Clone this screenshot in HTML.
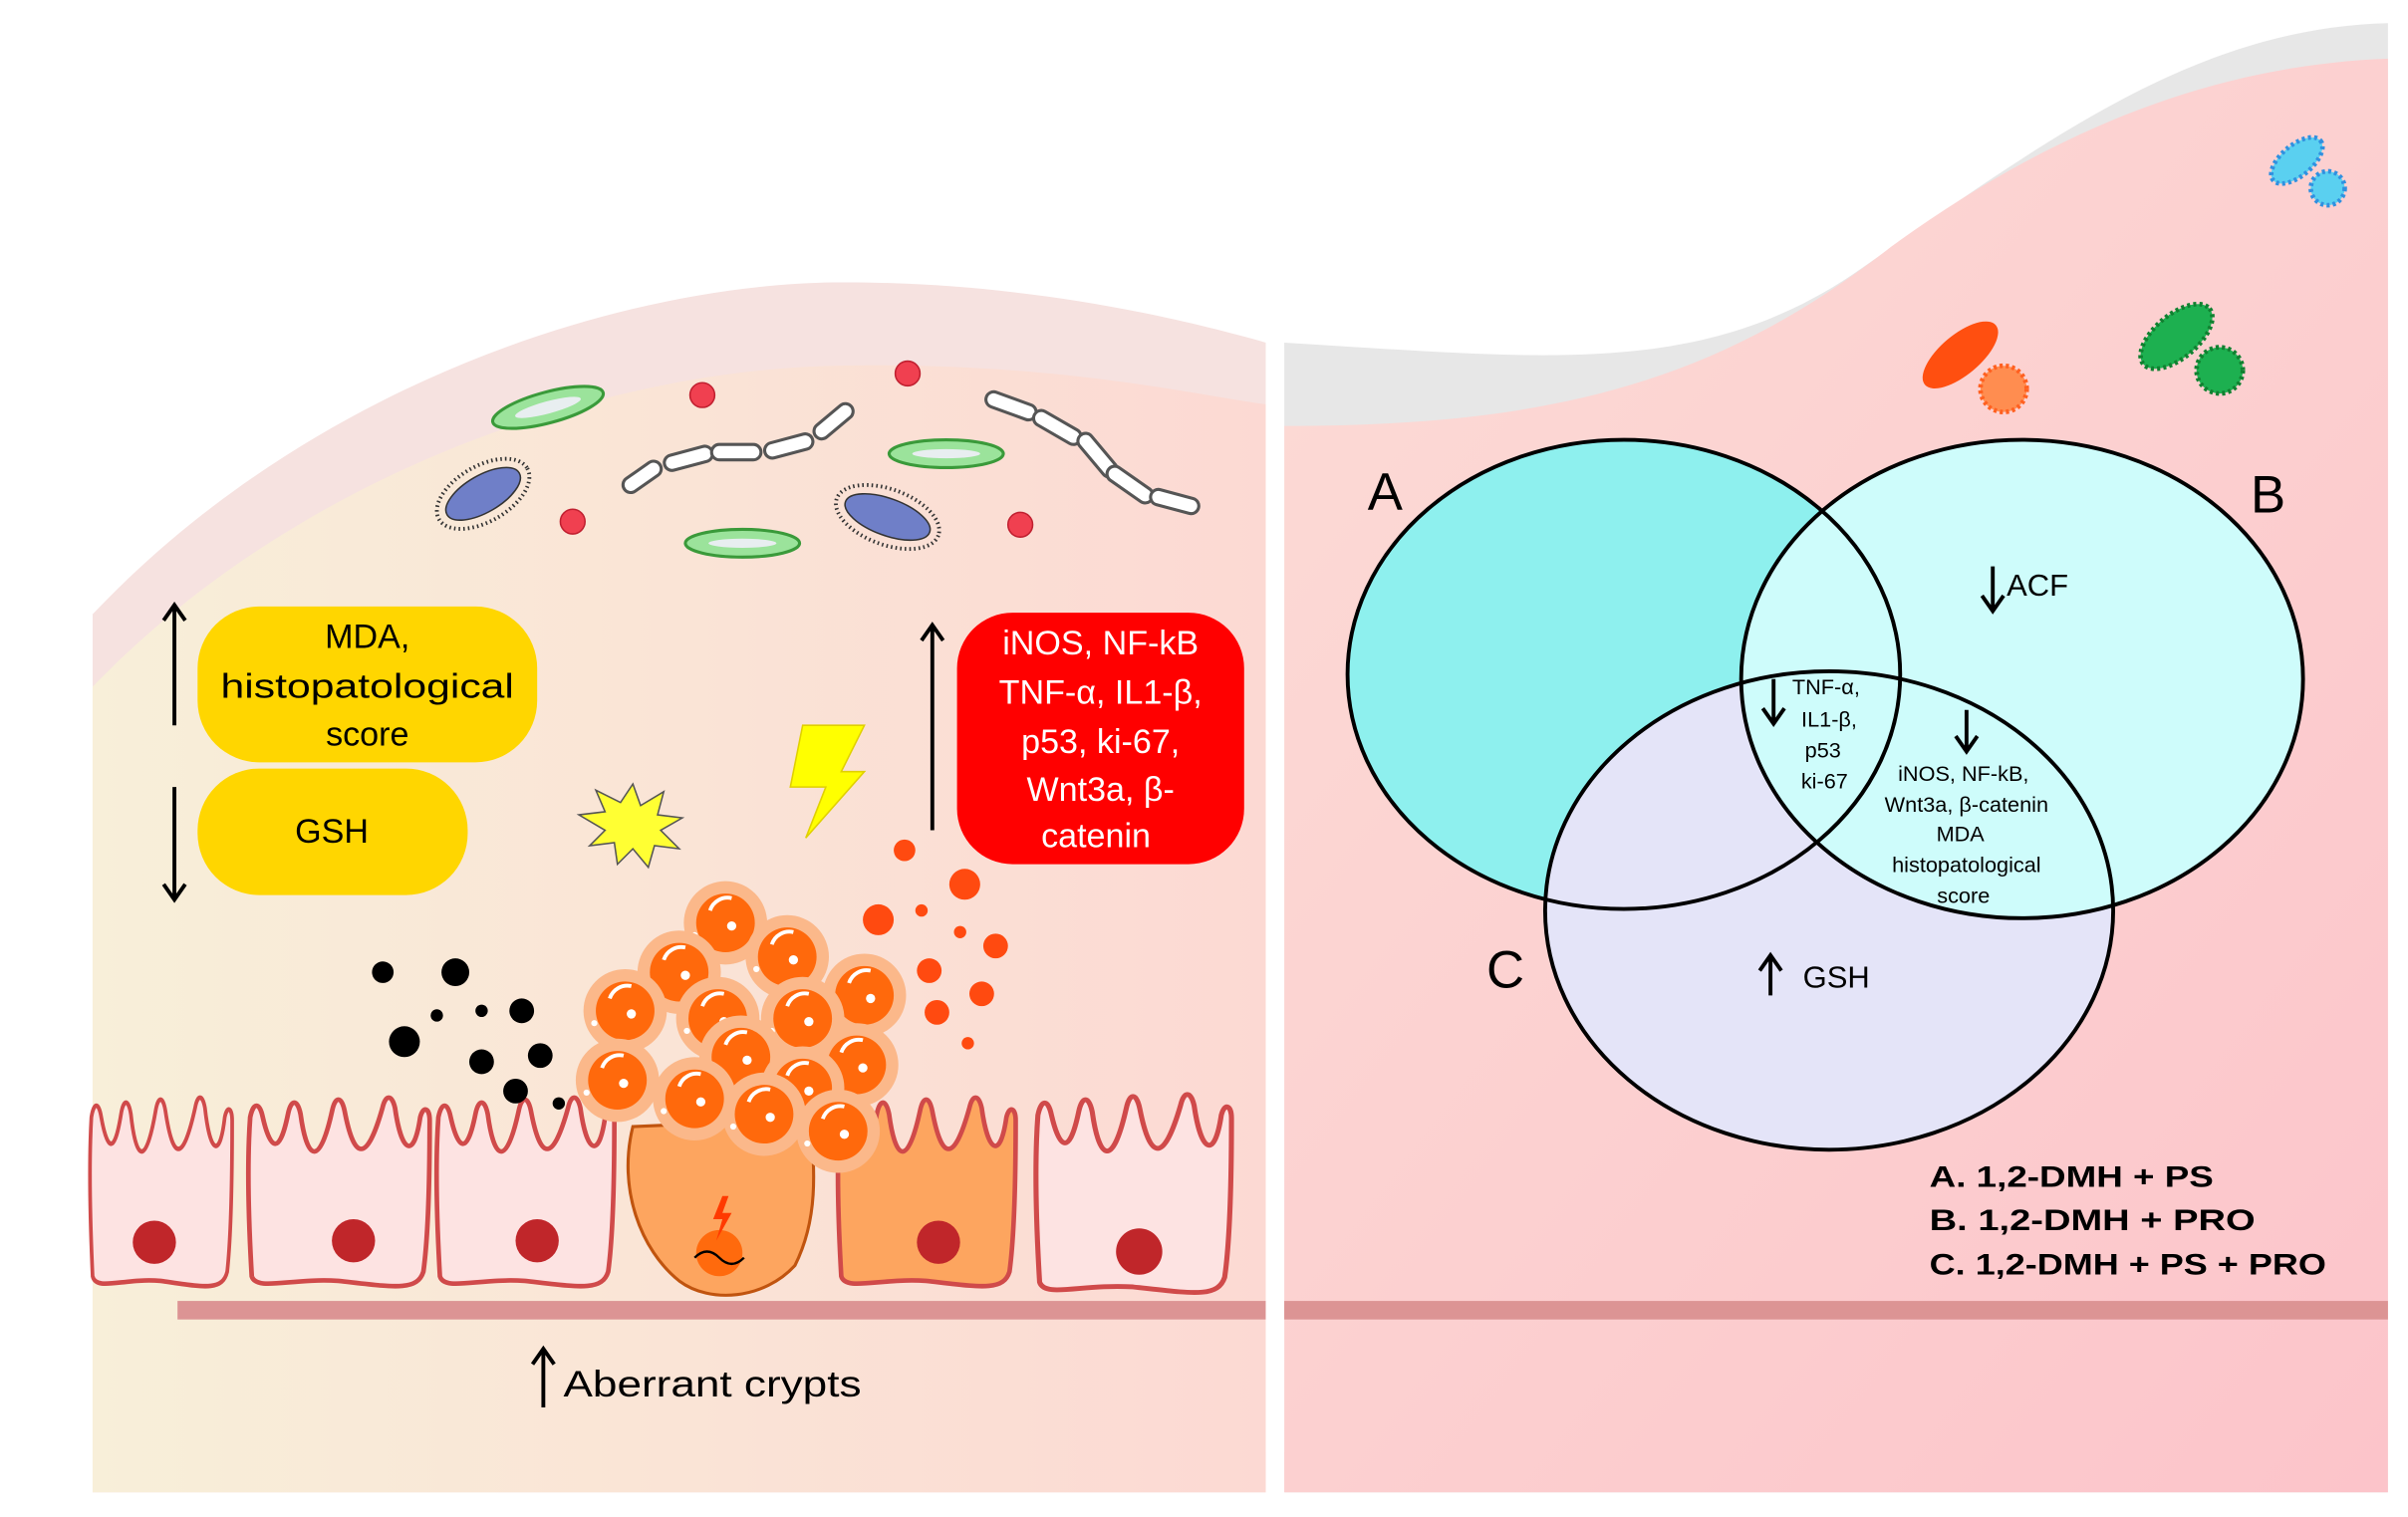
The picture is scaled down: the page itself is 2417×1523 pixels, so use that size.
<!DOCTYPE html>
<html><head><meta charset="utf-8"><style>
html,body{margin:0;padding:0;background:#fff;}
svg{display:block;font-family:"Liberation Sans",sans-serif;}
</style></head><body>
<svg width="2417" height="1523" viewBox="0 0 1560 983" preserveAspectRatio="none" xmlns="http://www.w3.org/2000/svg">
<defs>
<linearGradient id="lg" x1="0" x2="1" y1="0" y2="0"><stop offset="0" stop-color="#f8efd9"/><stop offset="1" stop-color="#fcd9d3"/></linearGradient>
<linearGradient id="rg" x1="0" x2="1" y1="0" y2="1"><stop offset="0" stop-color="#fcdcd6"/><stop offset="1" stop-color="#fcc4ca"/></linearGradient>
<path id="cell" d="M5,115 C3,80 2,40 4,12 C6,2 10,2 12,12 C16,30 22,40 28,10 C30,0 34,0 36,10 C40,40 48,45 56,8 C58,-2 62,-2 64,8 C70,40 78,42 88,6 C90,-3 94,-3 96,6 C100,35 108,40 112,12 C114,4 118,6 118,14 C118,50 117,90 114,112 C110,125 95,122 60,118 C30,116 8,125 5,115 Z"/>
<g id="tc"><circle r="27" fill="#fbb88a"/><circle r="19" fill="#ff690c"/><path d="M-10,-8 A12,12 0 0 1 4,-16" stroke="#fff" stroke-width="2.5" fill="none"/><circle cx="4" cy="2" r="3" fill="#fff"/><circle cx="-20" cy="8" r="2" fill="#fff"/></g>
</defs>
<path d="M60,967 L60,398 C200,250 400,185 540,183 C660,182 760,205 820,222 L820,967 Z" fill="#f6e2e0"/>
<path d="M60,967 L60,445 C200,300 400,240 540,237 C680,234 770,255 820,262 L820,967 Z" fill="url(#lg)"/>
<path d="M832,222 C1000,232 1100,245 1200,178 C1320,95 1420,18 1547,15 L1547,967 L832,967 Z" fill="#e7e7e7"/>
<path d="M832,276 C1000,276 1110,250 1225,160 C1335,80 1440,42 1547,38 L1547,967 L832,967 Z" fill="url(#rg)"/>
<rect x="820" y="225" width="12" height="716" fill="#fff"/>
<rect x="115" y="843" width="705" height="12" fill="#dc9494"/>
<rect x="832" y="843" width="715" height="12" fill="#dc9494"/>
<g fill="#fde3e2" stroke="#d04a4a" stroke-width="3">
<use href="#cell" transform="translate(56,712) scale(0.8,1)"/>
<use href="#cell" transform="translate(158,712) scale(1.02,1)"/>
<use href="#cell" transform="translate(280,712) scale(1,1)"/>
<use href="#cell" transform="translate(668,710) scale(1.1,1.05)"/>
</g>
<g fill="#fda55f" stroke="#d04a4a" stroke-width="3">
<use href="#cell" transform="translate(540,712) scale(1,1)"/>
</g>
<path d="M410,730 C400,770 415,810 440,830 C460,845 495,842 515,820 C530,790 528,760 525,725 Z" fill="#fda55f" stroke="#c0540f" stroke-width="2"/>
<g fill="#c0262a"><circle cx="100" cy="805" r="14"/><circle cx="229" cy="804" r="14"/><circle cx="348" cy="804" r="14"/><circle cx="608" cy="805" r="14"/><circle cx="738" cy="811" r="15"/></g>
<circle cx="466" cy="812" r="15" fill="#ff6a0d"/>
<path d="M450,815 q8,-8 16,0 t16,0" stroke="#000" fill="none" stroke-width="1.5"/>
<path d="M468,775 l-6,15 6,0 -4,14 10,-18 -6,0 4,-11z" fill="#ff3a00"/>
<g>
<use href="#tc" x="470" y="598"/><use href="#tc" x="510" y="620"/><use href="#tc" x="440" y="630"/>
<use href="#tc" x="560" y="645"/><use href="#tc" x="405" y="655"/><use href="#tc" x="520" y="660"/>
<use href="#tc" x="465" y="660"/><use href="#tc" x="400" y="700"/><use href="#tc" x="480" y="685"/>
<use href="#tc" x="555" y="690"/><use href="#tc" x="450" y="712"/><use href="#tc" x="520" y="705"/>
<use href="#tc" x="495" y="722"/><use href="#tc" x="543" y="733"/>
</g>
<g fill="#000"><circle cx="248" cy="630" r="7"/><circle cx="295" cy="630" r="9"/><circle cx="338" cy="655" r="8"/><circle cx="312" cy="655" r="4"/><circle cx="283" cy="658" r="4"/><circle cx="262" cy="675" r="10"/><circle cx="312" cy="688" r="8"/><circle cx="350" cy="684" r="8"/><circle cx="334" cy="707" r="8"/><circle cx="362" cy="715" r="4"/></g>
<g fill="#ff4a10"><circle cx="586" cy="551" r="7"/><circle cx="625" cy="573" r="10"/><circle cx="569" cy="596" r="10"/><circle cx="597" cy="590" r="4"/><circle cx="622" cy="604" r="4"/><circle cx="645" cy="613" r="8"/><circle cx="602" cy="629" r="8"/><circle cx="636" cy="644" r="8"/><circle cx="607" cy="656" r="8"/><circle cx="627" cy="676" r="4"/></g>
<path d="M520,470 L560,470 L545,500 L560,500 L522,543 L535,510 L512,510 Z" fill="#ffff00" stroke="#e0d000"/>
<polygon points="410,508 415,522 430,513 426,528 442,530 428,538 440,550 424,548 420,562 410,550 400,560 398,546 382,548 392,538 375,528 392,526 386,512 402,520" fill="#ffff33" stroke="#555" stroke-width="1"/>
<g stroke="#3a9a3a" stroke-width="2"><ellipse cx="355" cy="264" rx="37" ry="10" fill="#9be39b" transform="rotate(-15 355 264)"/><ellipse cx="613" cy="294" rx="37" ry="9" fill="#9be39b"/><ellipse cx="481" cy="352" rx="37" ry="9" fill="#9be39b"/></g>
<g fill="#e8eef0"><ellipse cx="355" cy="264" rx="22" ry="4" transform="rotate(-15 355 264)"/><ellipse cx="613" cy="294" rx="22" ry="3"/><ellipse cx="481" cy="352" rx="22" ry="3"/></g>
<g fill="#f04050" stroke="#c02030"><circle cx="455" cy="256" r="8"/><circle cx="588" cy="242" r="8"/><circle cx="371" cy="338" r="8"/><circle cx="661" cy="340" r="8"/></g>
<g stroke="#333" stroke-width="2.5" stroke-dasharray="1 2"><ellipse cx="313" cy="320" rx="33" ry="18" fill="none" transform="rotate(-30 313 320)"/><ellipse cx="575" cy="335" rx="35" ry="18" fill="none" transform="rotate(20 575 335)"/></g>
<g fill="#6f7fc8" stroke="#333"><ellipse cx="313" cy="320" rx="27" ry="12" transform="rotate(-30 313 320)"/><ellipse cx="575" cy="335" rx="29" ry="12" transform="rotate(20 575 335)"/></g>
<g fill="#fff" stroke="#555" stroke-width="2"><rect x="402" y="304" width="28" height="10" rx="5" transform="rotate(-35 416 309)"/><rect x="430" y="292" width="32" height="10" rx="5" transform="rotate(-15 446 297)"/><rect x="461" y="288" width="32" height="10" rx="5"/><rect x="495" y="284" width="32" height="10" rx="5" transform="rotate(-15 511 289)"/><rect x="525" y="268" width="30" height="10" rx="5" transform="rotate(-40 540 273)"/>
<rect x="638" y="258" width="34" height="10" rx="5" transform="rotate(20 655 263)"/><rect x="668" y="272" width="34" height="10" rx="5" transform="rotate(30 685 277)"/><rect x="694" y="290" width="34" height="10" rx="5" transform="rotate(50 711 295)"/><rect x="715" y="309" width="34" height="10" rx="5" transform="rotate(35 732 314)"/><rect x="745" y="320" width="32" height="10" rx="5" transform="rotate(15 761 325)"/></g>
<ellipse cx="1270" cy="230" rx="30" ry="13" fill="#ff4f10" transform="rotate(-40 1270 230)"/>
<circle cx="1298" cy="252" r="15" fill="#ff8d50" stroke="#ff6020" stroke-dasharray="2 2" stroke-width="3"/>
<ellipse cx="1410" cy="218" rx="28" ry="14" fill="#1db050" transform="rotate(-40 1410 218)" stroke="#108030" stroke-dasharray="2 2" stroke-width="3"/>
<circle cx="1438" cy="240" r="15" fill="#1db050" stroke="#108030" stroke-dasharray="2 2" stroke-width="3"/>
<ellipse cx="1488" cy="104" rx="20" ry="10" fill="#5ad0f0" transform="rotate(-40 1488 104)" stroke="#3090e0" stroke-dasharray="2 2" stroke-width="3"/>
<circle cx="1508" cy="122" r="11" fill="#5ad0f0" stroke="#3090e0" stroke-dasharray="2 2" stroke-width="3"/>
<rect x="128" y="393" width="220" height="101" rx="40" fill="#ffd600"/>
<rect x="128" y="498" width="175" height="82" rx="40" fill="#ffd600"/>
<g font-size="22" fill="#000" text-anchor="middle"><text x="238" y="420">MDA,</text><text x="238" y="452" textLength="190" lengthAdjust="spacingAndGlyphs">histopatological</text><text x="238" y="483">score</text><text x="215" y="546">GSH</text></g>
<g stroke="#000" stroke-width="2.5" fill="none"><path d="M113,393 L113,470 M106,402 L113,392 L120,402"/><path d="M113,510 L113,582 M106,573 L113,583 L120,573"/><path d="M604,405 L604,538 M597,415 L604,405 L611,415"/><path d="M352,875 L352,912 M345,884 L352,874 L359,884"/></g>
<rect x="620" y="397" width="186" height="163" rx="36" fill="#ff0000"/>
<g font-size="22" fill="#fff" text-anchor="middle"><text x="713" y="424">iNOS, NF-kB</text><text x="713" y="456">TNF-α, IL1-β,</text><text x="713" y="488">p53, ki-67,</text><text x="713" y="519">Wnt3a,  β-</text><text x="710" y="549">catenin</text></g>
<text x="365" y="905" font-size="24" fill="#000" textLength="193" lengthAdjust="spacingAndGlyphs">Aberrant crypts</text>
<ellipse cx="1052" cy="437" rx="179" ry="152" fill="#8ef0ee"/>
<ellipse cx="1185" cy="590" rx="184" ry="155" fill="#e4e4f8"/>
<ellipse cx="1310" cy="440" rx="182" ry="155" fill="#cefcfb"/>
<g fill="none" stroke="#000" stroke-width="2.5"><ellipse cx="1052" cy="437" rx="179" ry="152"/><ellipse cx="1310" cy="440" rx="182" ry="155"/><ellipse cx="1185" cy="590" rx="184" ry="155"/></g>
<g font-size="34" fill="#000"><text x="886" y="330">A</text><text x="1458" y="332">B</text><text x="963" y="640">C</text></g>
<g font-size="20" fill="#000"><text x="1300" y="386">ACF</text><text x="1168" y="640">GSH</text></g>
<g font-size="14" fill="#000" text-anchor="middle"><text x="1183" y="450">TNF-α,</text><text x="1185" y="471">IL1-β,</text><text x="1181" y="491">p53</text><text x="1182" y="511">ki-67</text>
<text x="1272" y="506">iNOS,  NF-kB,</text><text x="1274" y="526">Wnt3a,  β-catenin</text><text x="1270" y="545">MDA</text><text x="1274" y="565">histopatological</text><text x="1272" y="585">score</text></g>
<g stroke="#000" stroke-width="2.5" fill="none"><path d="M1291,367 L1291,395 M1284,386 L1291,396 L1298,386"/><path d="M1149,440 L1149,468 M1142,459 L1149,469 L1156,459"/><path d="M1274,460 L1274,486 M1267,477 L1274,487 L1281,477"/><path d="M1147,620 L1147,645 M1140,629 L1147,619 L1154,629"/></g>
<g font-size="19" font-weight="bold" fill="#000"><text x="1250" y="769" textLength="184" lengthAdjust="spacingAndGlyphs">A. 1,2-DMH + PS</text><text x="1250" y="797" textLength="211" lengthAdjust="spacingAndGlyphs">B.  1,2-DMH + PRO</text><text x="1250" y="826" textLength="257" lengthAdjust="spacingAndGlyphs">C. 1,2-DMH + PS + PRO</text></g>
</svg>
</body></html>
